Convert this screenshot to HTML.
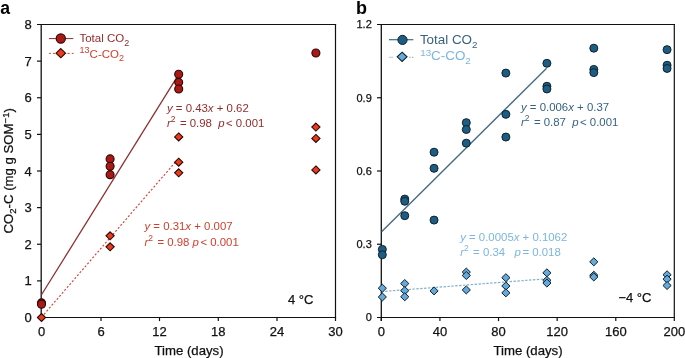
<!DOCTYPE html>
<html><head><meta charset="utf-8"><style>
html,body{margin:0;padding:0;background:#fff;}
body{width:685px;height:358px;overflow:hidden;font-family:"Liberation Sans",sans-serif;}
svg{display:block;will-change:transform;}
text{white-space:pre;stroke-width:0.25px;}
</style></head><body>
<svg width="685" height="358" viewBox="0 0 685 358">
<rect width="685" height="358" fill="#fff"/>
<text x="0.20" y="13.60" font-family="Liberation Sans, sans-serif" font-size="17.6" fill="#010101" font-weight="bold">a</text>
<text x="356.00" y="13.60" font-family="Liberation Sans, sans-serif" font-size="18" fill="#010101" font-weight="bold">b</text>
<line x1="41.20" y1="23.90" x2="41.20" y2="321.10" stroke="#111" stroke-width="1.3" />
<line x1="335.50" y1="23.90" x2="335.50" y2="321.10" stroke="#111" stroke-width="1.2" />
<line x1="37.00" y1="24.50" x2="336.10" y2="24.50" stroke="#111" stroke-width="1.2" />
<line x1="37.00" y1="317.50" x2="336.10" y2="317.50" stroke="#111" stroke-width="1.2" />
<text x="31.80" y="322.10" font-family="Liberation Sans, sans-serif" font-size="13" fill="#111" stroke="#111" text-anchor="end" >0</text>
<line x1="37.00" y1="280.88" x2="41.20" y2="280.88" stroke="#111" stroke-width="1.2" />
<text x="31.80" y="285.48" font-family="Liberation Sans, sans-serif" font-size="13" fill="#111" stroke="#111" text-anchor="end" >1</text>
<line x1="37.00" y1="244.25" x2="41.20" y2="244.25" stroke="#111" stroke-width="1.2" />
<text x="31.80" y="248.85" font-family="Liberation Sans, sans-serif" font-size="13" fill="#111" stroke="#111" text-anchor="end" >2</text>
<line x1="37.00" y1="207.62" x2="41.20" y2="207.62" stroke="#111" stroke-width="1.2" />
<text x="31.80" y="212.22" font-family="Liberation Sans, sans-serif" font-size="13" fill="#111" stroke="#111" text-anchor="end" >3</text>
<line x1="37.00" y1="171.00" x2="41.20" y2="171.00" stroke="#111" stroke-width="1.2" />
<text x="31.80" y="175.60" font-family="Liberation Sans, sans-serif" font-size="13" fill="#111" stroke="#111" text-anchor="end" >4</text>
<line x1="37.00" y1="134.38" x2="41.20" y2="134.38" stroke="#111" stroke-width="1.2" />
<text x="31.80" y="138.97" font-family="Liberation Sans, sans-serif" font-size="13" fill="#111" stroke="#111" text-anchor="end" >5</text>
<line x1="37.00" y1="97.75" x2="41.20" y2="97.75" stroke="#111" stroke-width="1.2" />
<text x="31.80" y="102.35" font-family="Liberation Sans, sans-serif" font-size="13" fill="#111" stroke="#111" text-anchor="end" >6</text>
<line x1="37.00" y1="61.12" x2="41.20" y2="61.12" stroke="#111" stroke-width="1.2" />
<text x="31.80" y="65.72" font-family="Liberation Sans, sans-serif" font-size="13" fill="#111" stroke="#111" text-anchor="end" >7</text>
<text x="31.80" y="29.10" font-family="Liberation Sans, sans-serif" font-size="13" fill="#111" stroke="#111" text-anchor="end" >8</text>
<text x="41.50" y="336.30" font-family="Liberation Sans, sans-serif" font-size="13" fill="#111" stroke="#111" text-anchor="middle" >0</text>
<line x1="101.00" y1="317.50" x2="101.00" y2="321.10" stroke="#111" stroke-width="1.2" />
<text x="101.00" y="336.30" font-family="Liberation Sans, sans-serif" font-size="13" fill="#111" stroke="#111" text-anchor="middle" >6</text>
<line x1="159.50" y1="317.50" x2="159.50" y2="321.10" stroke="#111" stroke-width="1.2" />
<text x="159.50" y="336.30" font-family="Liberation Sans, sans-serif" font-size="13" fill="#111" stroke="#111" text-anchor="middle" >12</text>
<line x1="218.30" y1="317.50" x2="218.30" y2="321.10" stroke="#111" stroke-width="1.2" />
<text x="218.30" y="336.30" font-family="Liberation Sans, sans-serif" font-size="13" fill="#111" stroke="#111" text-anchor="middle" >18</text>
<line x1="277.00" y1="317.50" x2="277.00" y2="321.10" stroke="#111" stroke-width="1.2" />
<text x="277.00" y="336.30" font-family="Liberation Sans, sans-serif" font-size="13" fill="#111" stroke="#111" text-anchor="middle" >24</text>
<text x="335.50" y="336.30" font-family="Liberation Sans, sans-serif" font-size="13" fill="#111" stroke="#111" text-anchor="middle" >30</text>
<text x="189.00" y="354.80" font-family="Liberation Sans, sans-serif" font-size="13.2" fill="#111" stroke="#111" text-anchor="middle" >Time (days)</text>
<text transform="translate(13.4,233.5) rotate(-90)" font-family="Liberation Sans, sans-serif" font-size="13.2" fill="#111" stroke="#111">CO<tspan font-size="9.5" dy="3">2</tspan><tspan dy="-3">-C (mg g SOM</tspan><tspan font-size="9.5" dy="-4.8">−1</tspan><tspan dy="4.8">)</tspan></text>
<text x="288.00" y="303.60" font-family="Liberation Sans, sans-serif" font-size="13" fill="#111" stroke="#111" >4 °C</text>
<line x1="41.50" y1="294.79" x2="178.70" y2="74.31" stroke="#8e2c2c" stroke-width="1.25" />
<line x1="41.50" y1="317.24" x2="178.70" y2="158.29" stroke="#d4403a" stroke-width="1.15" stroke-dasharray="2 1.9"/>
<circle cx="41.50" cy="302.85" r="4.0" fill="#a91a16" stroke="#2e0503" stroke-width="1.1"/>
<circle cx="41.50" cy="304.31" r="4.0" fill="#a91a16" stroke="#2e0503" stroke-width="1.1"/>
<circle cx="110.10" cy="158.91" r="4.0" fill="#a91a16" stroke="#2e0503" stroke-width="1.1"/>
<circle cx="110.10" cy="166.24" r="4.0" fill="#a91a16" stroke="#2e0503" stroke-width="1.1"/>
<circle cx="110.10" cy="174.66" r="4.0" fill="#a91a16" stroke="#2e0503" stroke-width="1.1"/>
<circle cx="178.70" cy="74.31" r="4.0" fill="#a91a16" stroke="#2e0503" stroke-width="1.1"/>
<circle cx="178.70" cy="82.37" r="4.0" fill="#a91a16" stroke="#2e0503" stroke-width="1.1"/>
<circle cx="178.70" cy="88.96" r="4.0" fill="#a91a16" stroke="#2e0503" stroke-width="1.1"/>
<circle cx="315.90" cy="53.07" r="4.0" fill="#a91a16" stroke="#2e0503" stroke-width="1.1"/>
<path d="M41.50 313.50L45.60 317.50L41.50 321.50L37.40 317.50Z" fill="#ea3b1c" stroke="#2a0600" stroke-width="1.1"/>
<path d="M110.10 231.83L114.20 235.83L110.10 239.83L106.00 235.83Z" fill="#ea3b1c" stroke="#2a0600" stroke-width="1.1"/>
<path d="M110.10 242.81L114.20 246.81L110.10 250.81L106.00 246.81Z" fill="#ea3b1c" stroke="#2a0600" stroke-width="1.1"/>
<path d="M178.70 132.94L182.80 136.94L178.70 140.94L174.60 136.94Z" fill="#ea3b1c" stroke="#2a0600" stroke-width="1.1"/>
<path d="M178.70 158.21L182.80 162.21L178.70 166.21L174.60 162.21Z" fill="#ea3b1c" stroke="#2a0600" stroke-width="1.1"/>
<path d="M178.70 168.83L182.80 172.83L178.70 176.83L174.60 172.83Z" fill="#ea3b1c" stroke="#2a0600" stroke-width="1.1"/>
<path d="M315.90 123.05L320.00 127.05L315.90 131.05L311.80 127.05Z" fill="#ea3b1c" stroke="#2a0600" stroke-width="1.1"/>
<path d="M315.90 134.40L320.00 138.40L315.90 142.40L311.80 138.40Z" fill="#ea3b1c" stroke="#2a0600" stroke-width="1.1"/>
<path d="M315.90 165.90L320.00 169.90L315.90 173.90L311.80 169.90Z" fill="#ea3b1c" stroke="#2a0600" stroke-width="1.1"/>
<line x1="49.00" y1="38.60" x2="73.30" y2="38.60" stroke="#8e2c2c" stroke-width="1.0" />
<circle cx="60.80" cy="38.50" r="4.6" fill="#a91a16" stroke="#2e0503" stroke-width="1.1"/>
<line x1="49.10" y1="53.40" x2="50.90" y2="53.40" stroke="#c8443a" stroke-width="1.0" />
<line x1="53.00" y1="53.40" x2="54.90" y2="53.40" stroke="#c8443a" stroke-width="1.0" />
<line x1="67.50" y1="53.40" x2="69.70" y2="53.40" stroke="#c8443a" stroke-width="1.0" />
<line x1="71.80" y1="53.40" x2="73.60" y2="53.40" stroke="#c8443a" stroke-width="1.0" />
<path d="M60.80 48.60L65.60 53.20L60.80 57.80L56.00 53.20Z" fill="#ea3b1c" stroke="#2a0600" stroke-width="1.1"/>
<text x="79.40" y="42.20" font-family="Liberation Sans, sans-serif" font-size="11.5" fill="#922c2c" >Total CO<tspan font-size="9" dy="3.7">2</tspan></text>
<text x="79.60" y="57.60" font-family="Liberation Sans, sans-serif" font-size="11.5" fill="#cf412e" ><tspan font-size="9" dy="-4.4">13</tspan><tspan dy="4.4">C-CO</tspan><tspan font-size="9" dy="3.7">2</tspan></text>
<text x="167.00" y="111.90" font-family="Liberation Sans, sans-serif" font-size="11.4" fill="#922c2c" ><tspan font-style="italic">y</tspan> = 0.43<tspan font-style="italic">x</tspan> + 0.62</text>
<text x="167.00" y="126.50" font-family="Liberation Sans, sans-serif" font-size="11.4" fill="#922c2c" ><tspan font-style="italic">r</tspan><tspan font-size="8.5" dy="-5">2</tspan><tspan dy="5" dx="1.2"> = 0.98  </tspan><tspan font-style="italic">p</tspan><tspan dx="1.5">&lt; 0.001</tspan></text>
<text x="144.50" y="230.30" font-family="Liberation Sans, sans-serif" font-size="11.4" fill="#cf412e" ><tspan font-style="italic">y</tspan> = 0.31<tspan font-style="italic">x</tspan> + 0.007</text>
<text x="144.50" y="245.50" font-family="Liberation Sans, sans-serif" font-size="11.4" fill="#cf412e" ><tspan font-style="italic">r</tspan><tspan font-size="8.5" dy="-5">2</tspan><tspan dy="5" dx="1.2"> = 0.98 </tspan><tspan font-style="italic">p</tspan><tspan dx="1.5">&lt; 0.001</tspan></text>
<line x1="381.30" y1="23.90" x2="381.30" y2="321.10" stroke="#111" stroke-width="1.3" />
<line x1="674.30" y1="23.90" x2="674.30" y2="321.10" stroke="#111" stroke-width="1.2" />
<line x1="377.00" y1="24.50" x2="674.90" y2="24.50" stroke="#111" stroke-width="1.2" />
<line x1="377.00" y1="317.50" x2="674.90" y2="317.50" stroke="#111" stroke-width="1.2" />
<text x="371.80" y="321.40" font-family="Liberation Sans, sans-serif" font-size="11" fill="#111" stroke="#111" text-anchor="end" >0</text>
<line x1="377.00" y1="244.25" x2="381.30" y2="244.25" stroke="#111" stroke-width="1.2" />
<text x="371.80" y="248.15" font-family="Liberation Sans, sans-serif" font-size="11" fill="#111" stroke="#111" text-anchor="end" >0.3</text>
<line x1="377.00" y1="171.00" x2="381.30" y2="171.00" stroke="#111" stroke-width="1.2" />
<text x="371.80" y="174.90" font-family="Liberation Sans, sans-serif" font-size="11" fill="#111" stroke="#111" text-anchor="end" >0.6</text>
<line x1="377.00" y1="97.75" x2="381.30" y2="97.75" stroke="#111" stroke-width="1.2" />
<text x="371.80" y="101.65" font-family="Liberation Sans, sans-serif" font-size="11" fill="#111" stroke="#111" text-anchor="end" >0.9</text>
<text x="371.80" y="28.40" font-family="Liberation Sans, sans-serif" font-size="11" fill="#111" stroke="#111" text-anchor="end" >1.2</text>
<line x1="381.30" y1="317.50" x2="381.30" y2="321.10" stroke="#111" stroke-width="1.2" />
<text x="381.30" y="336.30" font-family="Liberation Sans, sans-serif" font-size="13" fill="#111" stroke="#111" text-anchor="middle" >0</text>
<line x1="439.92" y1="317.50" x2="439.92" y2="321.10" stroke="#111" stroke-width="1.2" />
<text x="439.92" y="336.30" font-family="Liberation Sans, sans-serif" font-size="13" fill="#111" stroke="#111" text-anchor="middle" >40</text>
<line x1="498.54" y1="317.50" x2="498.54" y2="321.10" stroke="#111" stroke-width="1.2" />
<text x="498.54" y="336.30" font-family="Liberation Sans, sans-serif" font-size="13" fill="#111" stroke="#111" text-anchor="middle" >80</text>
<line x1="557.16" y1="317.50" x2="557.16" y2="321.10" stroke="#111" stroke-width="1.2" />
<text x="557.16" y="336.30" font-family="Liberation Sans, sans-serif" font-size="13" fill="#111" stroke="#111" text-anchor="middle" >120</text>
<line x1="615.78" y1="317.50" x2="615.78" y2="321.10" stroke="#111" stroke-width="1.2" />
<text x="615.78" y="336.30" font-family="Liberation Sans, sans-serif" font-size="13" fill="#111" stroke="#111" text-anchor="middle" >160</text>
<text x="674.40" y="336.30" font-family="Liberation Sans, sans-serif" font-size="13" fill="#111" stroke="#111" text-anchor="middle" >200</text>
<text x="528.00" y="354.80" font-family="Liberation Sans, sans-serif" font-size="13.2" fill="#111" stroke="#111" text-anchor="middle" >Time (days)</text>
<text x="618.40" y="301.90" font-family="Liberation Sans, sans-serif" font-size="13" fill="#111" stroke="#111" >−4 °C</text>
<line x1="381.60" y1="231.80" x2="546.60" y2="68.30" stroke="#456a84" stroke-width="1.35" />
<line x1="381.30" y1="291.60" x2="546.50" y2="278.80" stroke="#7fb0d0" stroke-width="1.2" stroke-dasharray="2.4 1.5"/>
<circle cx="382.33" cy="249.38" r="4.0" fill="#1f5c82" stroke="#0b2230" stroke-width="1.0"/>
<circle cx="382.33" cy="254.75" r="4.0" fill="#1f5c82" stroke="#0b2230" stroke-width="1.0"/>
<circle cx="404.75" cy="199.08" r="4.0" fill="#1f5c82" stroke="#0b2230" stroke-width="1.0"/>
<circle cx="404.75" cy="201.28" r="4.0" fill="#1f5c82" stroke="#0b2230" stroke-width="1.0"/>
<circle cx="404.75" cy="215.68" r="4.0" fill="#1f5c82" stroke="#0b2230" stroke-width="1.0"/>
<circle cx="434.06" cy="152.20" r="4.0" fill="#1f5c82" stroke="#0b2230" stroke-width="1.0"/>
<circle cx="434.06" cy="168.31" r="4.0" fill="#1f5c82" stroke="#0b2230" stroke-width="1.0"/>
<circle cx="434.06" cy="220.08" r="4.0" fill="#1f5c82" stroke="#0b2230" stroke-width="1.0"/>
<circle cx="466.30" cy="122.65" r="4.0" fill="#1f5c82" stroke="#0b2230" stroke-width="1.0"/>
<circle cx="466.30" cy="129.49" r="4.0" fill="#1f5c82" stroke="#0b2230" stroke-width="1.0"/>
<circle cx="466.30" cy="143.16" r="4.0" fill="#1f5c82" stroke="#0b2230" stroke-width="1.0"/>
<circle cx="505.87" cy="73.09" r="4.0" fill="#1f5c82" stroke="#0b2230" stroke-width="1.0"/>
<circle cx="505.87" cy="114.35" r="4.0" fill="#1f5c82" stroke="#0b2230" stroke-width="1.0"/>
<circle cx="505.87" cy="137.06" r="4.0" fill="#1f5c82" stroke="#0b2230" stroke-width="1.0"/>
<circle cx="546.90" cy="63.32" r="4.0" fill="#1f5c82" stroke="#0b2230" stroke-width="1.0"/>
<circle cx="546.90" cy="86.27" r="4.0" fill="#1f5c82" stroke="#0b2230" stroke-width="1.0"/>
<circle cx="546.90" cy="88.96" r="4.0" fill="#1f5c82" stroke="#0b2230" stroke-width="1.0"/>
<circle cx="593.80" cy="48.18" r="4.0" fill="#1f5c82" stroke="#0b2230" stroke-width="1.0"/>
<circle cx="593.80" cy="69.43" r="4.0" fill="#1f5c82" stroke="#0b2230" stroke-width="1.0"/>
<circle cx="593.80" cy="72.60" r="4.0" fill="#1f5c82" stroke="#0b2230" stroke-width="1.0"/>
<circle cx="667.07" cy="49.65" r="4.0" fill="#1f5c82" stroke="#0b2230" stroke-width="1.0"/>
<circle cx="667.07" cy="65.28" r="4.0" fill="#1f5c82" stroke="#0b2230" stroke-width="1.0"/>
<circle cx="667.07" cy="68.45" r="4.0" fill="#1f5c82" stroke="#0b2230" stroke-width="1.0"/>
<path d="M382.33 284.20L386.43 288.20L382.33 292.20L378.23 288.20Z" fill="#66aadb" stroke="#0e1e2a" stroke-width="1.0"/>
<path d="M382.33 292.99L386.43 296.99L382.33 300.99L378.23 296.99Z" fill="#66aadb" stroke="#0e1e2a" stroke-width="1.0"/>
<path d="M404.75 279.56L408.85 283.56L404.75 287.56L400.65 283.56Z" fill="#66aadb" stroke="#0e1e2a" stroke-width="1.0"/>
<path d="M404.75 286.64L408.85 290.64L404.75 294.64L400.65 290.64Z" fill="#66aadb" stroke="#0e1e2a" stroke-width="1.0"/>
<path d="M404.75 292.75L408.85 296.75L404.75 300.75L400.65 296.75Z" fill="#66aadb" stroke="#0e1e2a" stroke-width="1.0"/>
<path d="M434.06 286.89L438.16 290.89L434.06 294.89L429.96 290.89Z" fill="#66aadb" stroke="#0e1e2a" stroke-width="1.0"/>
<path d="M466.30 268.08L470.40 272.08L466.30 276.08L462.20 272.08Z" fill="#66aadb" stroke="#0e1e2a" stroke-width="1.0"/>
<path d="M466.30 271.50L470.40 275.50L466.30 279.50L462.20 275.50Z" fill="#66aadb" stroke="#0e1e2a" stroke-width="1.0"/>
<path d="M466.30 285.91L470.40 289.91L466.30 293.91L462.20 289.91Z" fill="#66aadb" stroke="#0e1e2a" stroke-width="1.0"/>
<path d="M505.87 273.70L509.97 277.70L505.87 281.70L501.77 277.70Z" fill="#66aadb" stroke="#0e1e2a" stroke-width="1.0"/>
<path d="M505.87 282.00L509.97 286.00L505.87 290.00L501.77 286.00Z" fill="#66aadb" stroke="#0e1e2a" stroke-width="1.0"/>
<path d="M505.87 288.84L509.97 292.84L505.87 296.84L501.77 292.84Z" fill="#66aadb" stroke="#0e1e2a" stroke-width="1.0"/>
<path d="M546.90 268.82L551.00 272.82L546.90 276.82L542.80 272.82Z" fill="#66aadb" stroke="#0e1e2a" stroke-width="1.0"/>
<path d="M546.90 276.39L551.00 280.39L546.90 284.39L542.80 280.39Z" fill="#66aadb" stroke="#0e1e2a" stroke-width="1.0"/>
<path d="M546.90 279.07L551.00 283.07L546.90 287.07L542.80 283.07Z" fill="#66aadb" stroke="#0e1e2a" stroke-width="1.0"/>
<path d="M593.80 257.83L597.90 261.83L593.80 265.83L589.70 261.83Z" fill="#66aadb" stroke="#0e1e2a" stroke-width="1.0"/>
<path d="M593.80 271.26L597.90 275.26L593.80 279.26L589.70 275.26Z" fill="#66aadb" stroke="#0e1e2a" stroke-width="1.0"/>
<path d="M593.80 272.97L597.90 276.97L593.80 280.97L589.70 276.97Z" fill="#66aadb" stroke="#0e1e2a" stroke-width="1.0"/>
<path d="M667.07 270.77L671.17 274.77L667.07 278.77L662.97 274.77Z" fill="#66aadb" stroke="#0e1e2a" stroke-width="1.0"/>
<path d="M667.07 275.17L671.17 279.17L667.07 283.17L662.97 279.17Z" fill="#66aadb" stroke="#0e1e2a" stroke-width="1.0"/>
<path d="M667.07 281.51L671.17 285.51L667.07 289.51L662.97 285.51Z" fill="#66aadb" stroke="#0e1e2a" stroke-width="1.0"/>
<line x1="389.00" y1="39.70" x2="413.30" y2="39.70" stroke="#456a84" stroke-width="1.2" />
<circle cx="402.50" cy="39.90" r="4.6" fill="#1f5c82" stroke="#0b2230" stroke-width="1.0"/>
<line x1="389.30" y1="57.30" x2="390.60" y2="57.30" stroke="#8aa4b8" stroke-width="1.1" />
<line x1="391.40" y1="57.30" x2="392.70" y2="57.30" stroke="#8aa4b8" stroke-width="1.1" />
<line x1="409.20" y1="57.30" x2="410.60" y2="57.30" stroke="#8aa4b8" stroke-width="1.1" />
<line x1="412.00" y1="57.30" x2="413.40" y2="57.30" stroke="#8aa4b8" stroke-width="1.1" />
<path d="M402.10 52.20L407.00 56.80L402.10 61.40L397.20 56.80Z" fill="#66aadb" stroke="#0e1e2a" stroke-width="1.1"/>
<text x="419.90" y="43.70" font-family="Liberation Sans, sans-serif" font-size="13.4" fill="#35627f" >Total CO<tspan font-size="9.8" dy="3.9">2</tspan></text>
<text x="420.20" y="60.40" font-family="Liberation Sans, sans-serif" font-size="13.4" fill="#7cb6de" ><tspan font-size="9.8" dy="-4.6">13</tspan><tspan dy="4.6">C-CO</tspan><tspan font-size="9.8" dy="3.9">2</tspan></text>
<text x="521.00" y="111.40" font-family="Liberation Sans, sans-serif" font-size="11.4" fill="#35627f" ><tspan font-style="italic">y</tspan> = 0.006<tspan font-style="italic">x</tspan> + 0.37</text>
<text x="521.00" y="126.40" font-family="Liberation Sans, sans-serif" font-size="11.4" fill="#35627f" ><tspan font-style="italic">r</tspan><tspan font-size="8.5" dy="-5">2</tspan><tspan dy="5" dx="1.2"> = 0.87  </tspan><tspan font-style="italic">p</tspan><tspan dx="1.5">&lt; 0.001</tspan></text>
<text x="460.20" y="240.60" font-family="Liberation Sans, sans-serif" font-size="11.4" fill="#7cb6de" ><tspan font-style="italic">y</tspan> = 0.0005<tspan font-style="italic">x</tspan> + 0.1062</text>
<text x="460.20" y="255.80" font-family="Liberation Sans, sans-serif" font-size="11.4" fill="#7cb6de" ><tspan font-style="italic">r</tspan><tspan font-size="8.5" dy="-5">2</tspan><tspan dy="5" dx="1.2"> = 0.34   </tspan><tspan font-style="italic">p</tspan><tspan dx="1.5">= 0.018</tspan></text>
</svg>
</body></html>
